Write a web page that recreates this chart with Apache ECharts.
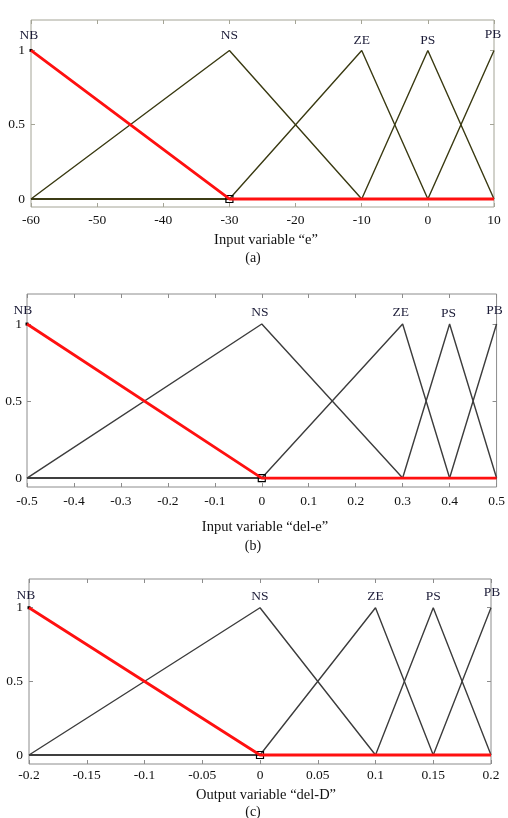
<!DOCTYPE html>
<html><head><meta charset="utf-8">
<script src="https://cdn.jsdelivr.net/npm/echarts@6/dist/echarts.min.js"></script>
<style>html,body{margin:0;padding:0;background:#fff}#c{width:508px;height:818px}</style>
</head><body><div id="c"></div>
<script>
const mfNames = ['NB','NS','ZE','PS','PB'];

// (a) Input variable "e"
const aPeaks = [-60,-30,-10,0,10];
const aNB = [[-60,1],[-30,0],[10,0]];
const aNS = [[-60,0],[-30,1],[-10,0],[10,0]];
const aZE = [[-60,0],[-30,0],[-10,1],[0,0],[10,0]];
const aPS = [[-60,0],[-10,0],[0,1],[10,0]];
const aPB = [[-60,0],[0,0],[10,1]];

// (b) Input variable "del-e"
const bPeaks = [-0.5,0,0.3,0.4,0.5];
const bNB = [[-0.5,1],[0,0],[0.5,0]];
const bNS = [[-0.5,0],[0,1],[0.3,0],[0.5,0]];
const bZE = [[-0.5,0],[0,0],[0.3,1],[0.4,0],[0.5,0]];
const bPS = [[-0.5,0],[0.3,0],[0.4,1],[0.5,0]];
const bPB = [[-0.5,0],[0.4,0],[0.5,1]];

// (c) Output variable "del-D"
const cPeaks = [-0.2,0,0.1,0.15,0.2];
const cNB = [[-0.2,1],[0,0],[0.2,0]];
const cNS = [[-0.2,0],[0,1],[0.1,0],[0.2,0]];
const cZE = [[-0.2,0],[0,0],[0.1,1],[0.15,0],[0.2,0]];
const cPS = [[-0.2,0],[0.1,0],[0.15,1],[0.2,0]];
const cPB = [[-0.2,0],[0.15,0],[0.2,1]];

const yTickValues = [0,0.5,1];

const panels = [
  {grid:{left:31,right:14,top:20,height:187}, xmin:-60, xmax:10, xint:10, ymin:-0.054, ymax:1.205,
   mfs:[aNB,aNS,aZE,aPS,aPB], peaks:aPeaks, corner:-30, line:'#3a3a12', box:'#a4a496',
   labOff:[[-2,-15],[0,-15],[0,-10],[0,-10],[-1,-16]], xMargin:6, yMargin:6,
   title:'Input variable \u201ce\u201d', tag:'(a)', titleX:266, titleY:240, tagY:258},
  {grid:{left:27,right:7,top:294,height:193}, xmin:-0.5, xmax:0.5, xint:0.1, ymin:-0.058, ymax:1.195,
   mfs:[bNB,bNS,bZE,bPS,bPB], peaks:bPeaks, corner:0, line:'#3c3c3c', box:'#8c8c8c',
   labOff:[[-4,-14],[-2,-12],[-2,-12],[-1,-11],[-2,-14]], xMargin:7, yMargin:5,
   title:'Input variable \u201cdel-e\u201d', tag:'(b)', titleX:265, titleY:527, tagY:546},
  {grid:{left:29,right:17,top:579,height:185}, xmin:-0.2, xmax:0.2, xint:0.05, ymin:-0.061, ymax:1.195,
   mfs:[cNB,cNS,cZE,cPS,cPB], peaks:cPeaks, corner:0, line:'#3c3c3c', box:'#8c8c8c',
   labOff:[[-3,-12],[0,-11],[0,-11],[0,-11],[1,-15]], xMargin:4, yMargin:6,
   title:'Output variable \u201cdel-D\u201d', tag:'(c)', titleX:266, titleY:795, tagY:812}
];

const font = 'Liberation Serif';
const grid = [], xAxis = [], yAxis = [], series = [], graphic = [];

panels.forEach((p, i) => {
  grid.push(Object.assign({show:true, borderColor:p.box, borderWidth:1, backgroundColor:'#fff'}, p.grid));
  const tickStyle = {show:true, inside:true, length:4, lineStyle:{color:p.box}};
  const noLine = {show:false, onZero:false};
  xAxis.push({type:'value', gridIndex:i, min:p.xmin, max:p.xmax, interval:p.xint, position:'bottom',
    axisLine:noLine, splitLine:{show:false}, axisTick:tickStyle,
    axisLabel:{margin:p.xMargin, fontFamily:font, fontSize:13.5, color:'#111', showMinLabel:true, showMaxLabel:true}});
  xAxis.push({type:'value', gridIndex:i, min:p.xmin, max:p.xmax, interval:p.xint, position:'top',
    axisLine:noLine, splitLine:{show:false}, axisTick:tickStyle, axisLabel:{show:false}});
  yAxis.push({type:'value', gridIndex:i, min:p.ymin, max:p.ymax, position:'left',
    axisLine:noLine, splitLine:{show:false},
    axisTick:{show:true, inside:true, length:4, lineStyle:{color:p.box}, customValues:yTickValues},
    axisLabel:{margin:p.yMargin, fontFamily:font, fontSize:13.5, color:'#111', customValues:yTickValues,
      formatter:v=>String(v)}});
  yAxis.push({type:'value', gridIndex:i, min:p.ymin, max:p.ymax, position:'right',
    axisLine:noLine, splitLine:{show:false},
    axisTick:{show:true, inside:true, length:4, lineStyle:{color:p.box}, customValues:yTickValues},
    axisLabel:{show:false, customValues:yTickValues}});

  // draw NS..PB first, NB (red) last on top
  const order = [1,2,3,4,0];
  order.forEach(k => {
    const isNB = k === 0;
    const mpData = [{
      coord:[p.peaks[k],1], symbol:'circle', symbolSize:1,
      itemStyle:{color:'rgba(0,0,0,0)'},
      label:{show:true, formatter:mfNames[k], position:'inside', offset:p.labOff[k],
        fontFamily:font, fontSize:13.5, color:'#1c1c38'}
    }];
    if (isNB) {
      mpData.push({coord:[p.corner,0], symbol:'rect', symbolSize:7,
        itemStyle:{color:'rgba(0,0,0,0)', borderColor:'#000', borderWidth:1.2}, label:{show:false}});
      mpData.push({coord:[p.peaks[0],1], symbol:'rect', symbolSize:3,
        itemStyle:{color:'#000'}, label:{show:false}});
    }
    series.push({
      type:'line', name:mfNames[k], xAxisIndex:2*i, yAxisIndex:2*i,
      data:p.mfs[k], showSymbol:false, symbol:'none', silent:true, animation:false, clip:false,
      lineStyle:{color:isNB?'#ff1010':p.line, width:isNB?2.8:1.4},
      z:isNB?5:3,
      markPoint:{data:mpData, animation:false, silent:true}
    });
  });

  graphic.push({type:'text', x:p.titleX, y:p.titleY,
    style:{text:p.title, font:'14.5px "Liberation Serif"', fill:'#111', textAlign:'center', textVerticalAlign:'middle'}});
  graphic.push({type:'text', x:253, y:p.tagY,
    style:{text:p.tag, font:'14px "Liberation Serif"', fill:'#111', textAlign:'center', textVerticalAlign:'middle'}});
});

const chart = echarts.init(document.getElementById('c'), null, {renderer:'canvas'});
chart.setOption({animation:false, backgroundColor:'#fff', grid, xAxis, yAxis, series, graphic});
</script></body></html>
